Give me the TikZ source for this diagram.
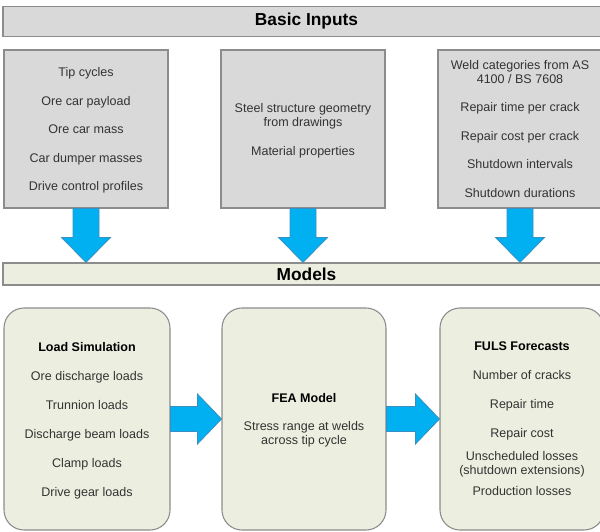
\documentclass[tikz,border=0pt]{standalone}
\usepackage{fontspec}
\setmainfont{Liberation Sans}
\usetikzlibrary{calc}
\definecolor{boxgray}{HTML}{D9D9D9}
\definecolor{boxline}{HTML}{8C8C8C}
\definecolor{modelfill}{HTML}{ECEEDF}
\definecolor{arrowfill}{HTML}{00B0F0}
\definecolor{arrowline}{HTML}{3A8FC0}
\definecolor{textgray}{HTML}{333333}
\begin{document}
\begin{tikzpicture}[
    x=0.75pt, y=-0.75pt,
    every node/.style = {align=center, inner sep=0pt, font=\fontsize{9.4}{10.5}\selectfont, text=textgray},
    bar/.style = {draw=boxline, line width=0.9pt, minimum width=455.25pt, font=\fontsize{13}{15}\selectfont\bfseries, text=black},
    inbox/.style = {draw=boxline, line width=0.8pt, fill=boxgray, minimum width=123pt, minimum height=118.5pt},
    modelbox/.style = {draw=boxline, line width=0.8pt, fill=modelfill, rounded corners=15pt, minimum width=123pt, minimum height=166.5pt},
    lowtext/.style = {text depth=-2.5pt},
    blockarrow/.style = {draw=arrowline, line width=0.6pt, fill=arrowfill}
    ]
    \useasboundingbox (0,0) rectangle (600,532);
    \node[bar, fill=boxgray, minimum height=22pt] (inputs) at (306.5,21.5) {Basic Inputs};
    \node[inbox, lowtext] (tips) at (86,129) {Tip cycles\\[10.9pt]
        Ore car payload\\[10.9pt]
        Ore car mass\\[10.9pt]
        Car dumper masses\\[10.9pt]
        Drive control profiles};
    \node[inbox, lowtext] (steel) at (303,129) {Steel structure geometry\\
        from drawings\\[11.25pt]
        Material properties};
    \node[inbox] (weld) at (520,129) {Weld categories from AS\\
        4100 / BS 7608\\[10.5pt]
        Repair time per crack\\[11pt]
        Repair cost per crack\\[11pt]
        Shutdown intervals\\[11pt]
        Shutdown durations};
    \node[bar, fill=modelfill, minimum height=16.5pt] (models) at (306.5,274) {Models};
    \node[modelbox, lowtext, minimum width=124.5pt] (sim) at (87,419) {\textbf{\color{black}Load Simulation}\\[11.25pt]
        Ore discharge loads\\[11.25pt]
        Trunnion loads\\[11.25pt]
        Discharge beam loads\\[11.25pt]
        Clamp loads\\[11.25pt]
        Drive gear loads};
    \node[modelbox, lowtext] (fea) at (304,419) {\textbf{\color{black}FEA Model}\\[10.5pt]
        Stress range at welds\\
        across tip cycle};
    \node[modelbox, lowtext] (fuls) at (522,419) {\textbf{\color{black}FULS Forecasts}\\[11.25pt]
        Number of cracks\\[11.25pt]
        Repair time\\[11.25pt]
        Repair cost\\[6.75pt]
        Unscheduled losses\\
        (shutdown extensions)\\[5.25pt]
        Production losses};
    \foreach \src in {tips,steel,weld}
        \draw[blockarrow] let \p1=(\src.south), \p2=(models.north) in
            (\x1-9.75pt,\y1) -- (\x1+9.75pt,\y1) -- (\x1+9.75pt,\y2+18.75pt) -- (\x1+18.4pt,\y2+18.75pt)
            -- (\x1,\y2) -- (\x1-18.4pt,\y2+18.75pt) -- (\x1-9.75pt,\y2+18.75pt) -- cycle;
    \foreach \src/\dst in {sim/fea,fea/fuls}
        \draw[blockarrow] let \p1=(\src.east), \p2=(\dst.west) in
            (\x1,\y1-9.4pt) -- (\x2-18pt,\y1-9.4pt) -- (\x2-18pt,\y1-18.75pt) -- (\x2,\y1)
            -- (\x2-18pt,\y1+18.75pt) -- (\x2-18pt,\y1+9.4pt) -- (\x1,\y1+9.4pt) -- cycle;
\end{tikzpicture}
\end{document}
